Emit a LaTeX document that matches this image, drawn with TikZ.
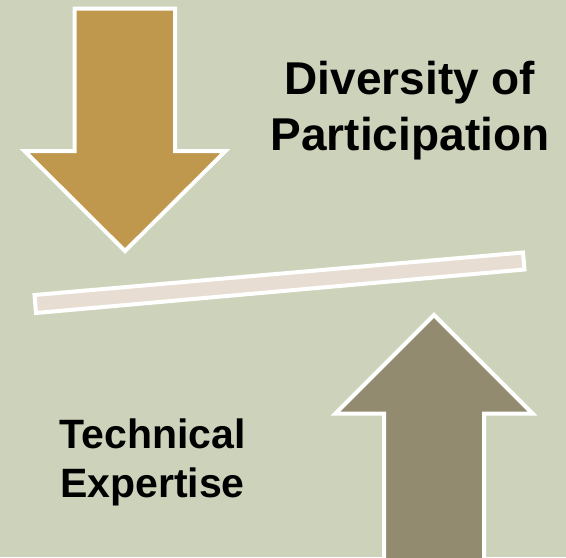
\documentclass[tikz,border=0pt]{standalone}
\usepackage{fontspec}
\setmainfont{Liberation Sans}

\definecolor{sagebg}{RGB}{205,211,187}
\definecolor{goldarrow}{RGB}{192,152,77}
\definecolor{taupearrow}{RGB}{146,139,112}
\definecolor{beambar}{RGB}{232,221,211}

\tikzset{every picture/.style={line width=0.75pt}}
\tikzset{
  whiteedge/.style={draw=white, line width=3pt, line join=miter},
  bigtext/.style={inner sep=0pt, align=center, font=\bfseries\fontsize{34.5}{42}\selectfont},
  midtext/.style={inner sep=0pt, align=center, font=\bfseries\fontsize{30.75}{36.75}\selectfont}
}

\begin{document}
\begin{tikzpicture}[x=0.75pt,y=0.75pt,yscale=-1,xscale=1]
\useasboundingbox (0,0) rectangle (566,557);
\clip (0,0) rectangle (566,557);
%Shape: Rectangle [background]
\fill[sagebg] (0,0) rectangle (566,557);

%Shape: Down Arrow
\draw[whiteedge, fill=goldarrow] (74.5,8.5) -- (175,8.5) -- (175,151) -- (225.5,151) -- (125,251) -- (24.5,151) -- (74.5,151) -- cycle ;
%Shape: Up Arrow
\draw[whiteedge, fill=taupearrow] (384,565) -- (384,413.5) -- (335.5,413.5) -- (434,315) -- (532.5,413.5) -- (484,413.5) -- (484,565) -- cycle ;
%Shape: Tilted Bar
\draw[whiteedge, fill=beambar] (34.5,295) -- (523,252.5) -- (524.5,269.5) -- (36,313) -- cycle ;

% Text Node
\node[bigtext, anchor=base] (diversity) at (410,150) {Diversity of\\Participation};
% Text Node
\node[midtext, anchor=base] (technical) at (152.5,497) {Technical\\Expertise};

\end{tikzpicture}
\end{document}
